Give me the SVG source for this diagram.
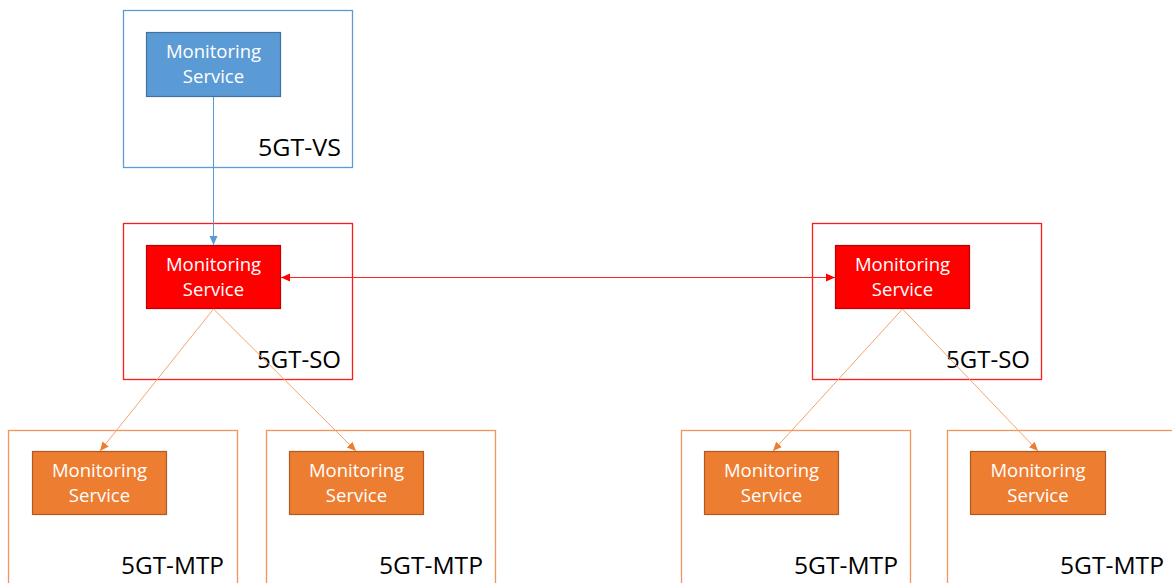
<svg xmlns="http://www.w3.org/2000/svg" width="1172" height="583" viewBox="0 0 1172 583">
<style>
.frame{fill:#ffffff;stroke-width:1.3}
.vs{stroke:#5b9bd5}
.so{stroke:#ff1a1a}
.mtp{stroke:#f0945a}
.svc{stroke-width:1.2}
.svc-vs{fill:#5b9bd5;stroke:#41719c}
.svc-so{fill:#ff0000;stroke:#c00000}
.svc-mtp{fill:#ed7d31;stroke:#ae5a21}
.st{font-family:"Open Sans","Liberation Sans",sans-serif;font-size:18.5px;fill:#ffffff;text-anchor:middle}
.lb{font-family:"Open Sans","Liberation Sans",sans-serif;font-size:24px;fill:#000000;text-anchor:end}
.c{fill:none;stroke-width:1}
</style>
<defs>
<marker id="ab" markerUnits="userSpaceOnUse" markerWidth="10" markerHeight="10" refX="9" refY="5" orient="auto"><path d="M0,1 L9,5 L0,9 Z" fill="#5b9bd5"/></marker>
<marker id="ar" markerUnits="userSpaceOnUse" markerWidth="10" markerHeight="10" refX="9" refY="5" orient="auto"><path d="M0,1 L9,5 L0,9 Z" fill="#ff0000"/></marker>
<marker id="ars" markerUnits="userSpaceOnUse" markerWidth="10" markerHeight="10" refX="0" refY="5" orient="auto"><path d="M9,1 L0,5 L9,9 Z" fill="#ff0000"/></marker>
<marker id="ao" markerUnits="userSpaceOnUse" markerWidth="10" markerHeight="10" refX="9" refY="5" orient="auto"><path d="M0,1 L9,5 L0,9 Z" fill="#ed7d31"/></marker>
</defs>

<g id="vs">
<rect class="frame vs" x="123.5" y="10.5" width="229" height="157"/>
<text class="lb" x="341" y="156" textLength="83" lengthAdjust="spacingAndGlyphs">5GT-VS</text>
</g>
<g id="vs-monitoring">
<rect class="svc svc-vs" x="146.5" y="32.5" width="134" height="64"/>
<text class="st" x="213.5" y="58">Monitoring</text>
<text class="st" x="213.5" y="83">Service</text>
</g>

<g id="so-left">
<rect class="frame so" x="123.5" y="223.5" width="229" height="156"/>
<text class="lb" x="341" y="368" textLength="84" lengthAdjust="spacingAndGlyphs">5GT-SO</text>
</g>
<g id="so-left-monitoring">
<rect class="svc svc-so" x="146.5" y="245.5" width="134" height="63"/>
<text class="st" x="213.5" y="271">Monitoring</text>
<text class="st" x="213.5" y="296">Service</text>
</g>

<g id="so-right">
<rect class="frame so" x="812.5" y="223.5" width="229" height="156"/>
<text class="lb" x="1030" y="368" textLength="84" lengthAdjust="spacingAndGlyphs">5GT-SO</text>
</g>
<g id="so-right-monitoring">
<rect class="svc svc-so" x="835.5" y="245.5" width="134" height="63"/>
<text class="st" x="902.5" y="271">Monitoring</text>
<text class="st" x="902.5" y="296">Service</text>
</g>

<g id="mtp1">
<rect class="frame mtp" x="8.5" y="430.5" width="229" height="170"/>
<text class="lb" x="224" y="574" textLength="103" lengthAdjust="spacingAndGlyphs">5GT-MTP</text>
</g>
<g id="mtp1-monitoring">
<rect class="svc svc-mtp" x="32.5" y="451.5" width="134" height="63"/>
<text class="st" x="99.5" y="477">Monitoring</text>
<text class="st" x="99.5" y="502">Service</text>
</g>

<g id="mtp2">
<rect class="frame mtp" x="266.5" y="430.5" width="229" height="170"/>
<text class="lb" x="483" y="574" textLength="104" lengthAdjust="spacingAndGlyphs">5GT-MTP</text>
</g>
<g id="mtp2-monitoring">
<rect class="svc svc-mtp" x="289.5" y="451.5" width="134" height="63"/>
<text class="st" x="356.5" y="477">Monitoring</text>
<text class="st" x="356.5" y="502">Service</text>
</g>

<g id="mtp3">
<rect class="frame mtp" x="681.5" y="430.5" width="229" height="170"/>
<text class="lb" x="898" y="574" textLength="104" lengthAdjust="spacingAndGlyphs">5GT-MTP</text>
</g>
<g id="mtp3-monitoring">
<rect class="svc svc-mtp" x="704.5" y="451.5" width="134" height="63"/>
<text class="st" x="771.5" y="477">Monitoring</text>
<text class="st" x="771.5" y="502">Service</text>
</g>

<g id="mtp4">
<rect class="frame mtp" x="947.5" y="430.5" width="229" height="170"/>
<text class="lb" x="1164" y="574" textLength="104" lengthAdjust="spacingAndGlyphs">5GT-MTP</text>
</g>
<g id="mtp4-monitoring">
<rect class="svc svc-mtp" x="970.5" y="451.5" width="135" height="63"/>
<text class="st" x="1038" y="477">Monitoring</text>
<text class="st" x="1038" y="502">Service</text>
</g>

<g id="connectors">
<line class="c" x1="213.5" y1="97" x2="213.5" y2="245" stroke="#5b9bd5" marker-end="url(#ab)"/>
<line class="c" x1="281" y1="277.5" x2="835" y2="277.5" stroke="#ff2020" marker-start="url(#ars)" marker-end="url(#ar)"/>
<line class="c" x1="213.5" y1="309" x2="100" y2="451" stroke="#f4a46e" marker-end="url(#ao)"/>
<line class="c" x1="213.5" y1="309" x2="356" y2="451" stroke="#f4a46e" marker-end="url(#ao)"/>
<line class="c" x1="902.5" y1="309" x2="773" y2="451" stroke="#f4a46e" marker-end="url(#ao)"/>
<line class="c" x1="902.5" y1="309" x2="1038" y2="451" stroke="#f4a46e" marker-end="url(#ao)"/>
</g>
</svg>
